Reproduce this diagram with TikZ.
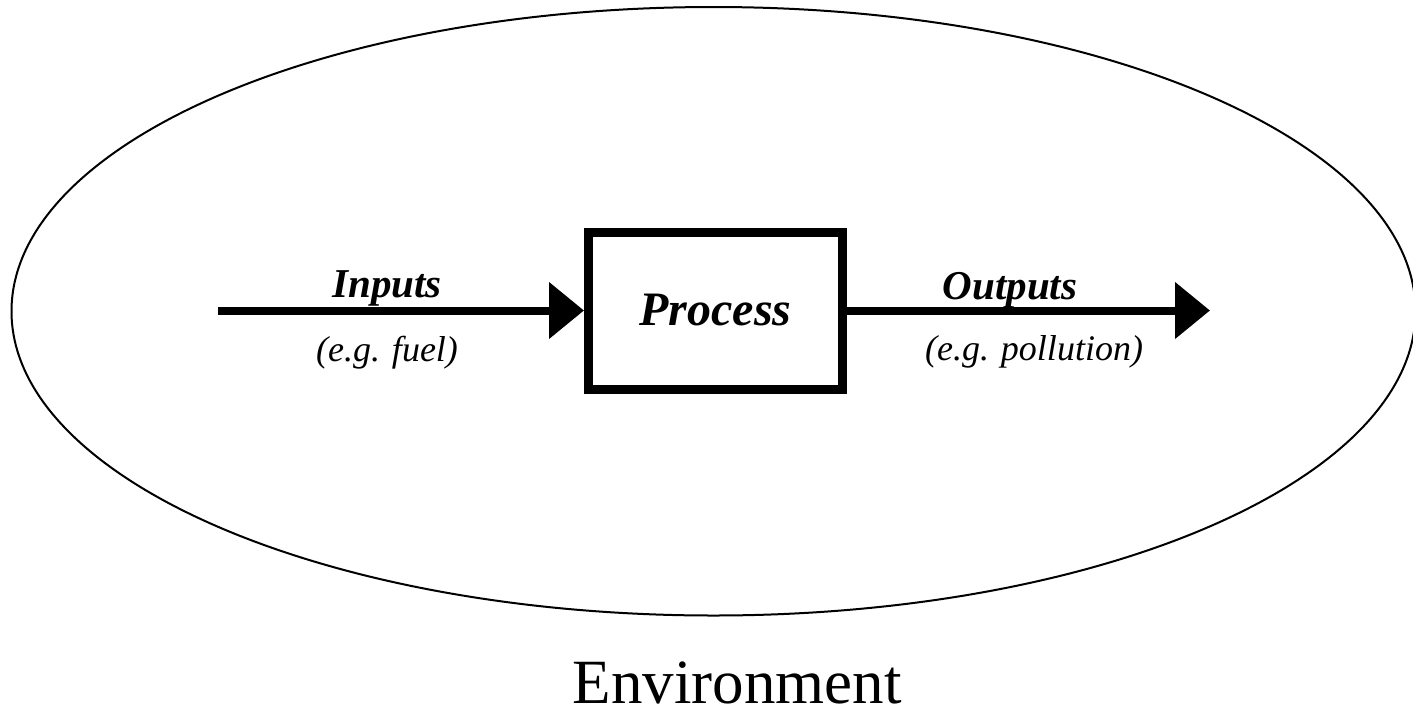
\documentclass[tikz,border=0pt]{standalone}
\usepackage{fontspec}
\setmainfont{Liberation Serif}
\usetikzlibrary{arrows.meta}
\begin{document}
\begin{tikzpicture}[x=1pt,y=-1pt,
  lab/.style={anchor=base, inner sep=0pt},
  boldlab/.style={lab, font=\fontsize{41}{48}\selectfont\bfseries\itshape},
  itlab/.style={lab, font=\fontsize{36}{42}\selectfont\itshape},
  envlab/.style={lab, font=\fontsize{63}{72}\selectfont},
  flow/.style={line width=8pt, -{Triangle[length=35pt,width=55pt]}},
  procbox/.style={draw, line width=9pt, minimum width=254pt, minimum height=157pt,
    inner sep=0pt, font=\fontsize{48}{56}\selectfont\bfseries\itshape}]
\useasboundingbox (0,0) rectangle (1413,710);
\draw[line width=2pt] (713.5,311.25) ellipse [x radius=702, y radius=304.25];
\node[procbox] (proc) at (715.5,310.5) {Process};
\coordinate (inStart) at (218,310.5);
\coordinate (outEnd) at (1210,310.5);
\draw[flow] (inStart) -- (proc.west);
\draw[flow] (proc.east) -- (outEnd);
\node[boldlab] (inlab) at (387,297) {Inputs};
\node[itlab] (inex) at (387,361) {(e.g. fuel)};
\node[boldlab] (outlab) at (1010,299) {Outputs};
\node[itlab] (outex) at (1034,360) {(e.g. pollution)};
\node[envlab] (env) at (737,703) {Environment};
\end{tikzpicture}
\end{document}
